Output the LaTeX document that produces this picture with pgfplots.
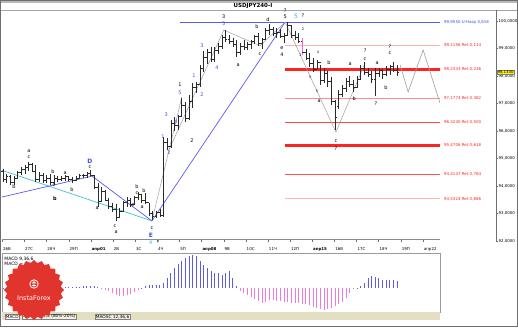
\documentclass[border=0pt]{standalone}
\usepackage{fontspec}
\setmainfont{DejaVu Sans}
\usepackage{pgfplots}
\pgfplotsset{compat=1.18}
\usepackage{pgfplotstable}

\definecolor{barc}{HTML}{2A2A2A}
\definecolor{fibred}{HTML}{FF2424}
\definecolor{fibpink}{HTML}{FF8C8C}
\definecolor{fiblight}{HTML}{FFB4B4}
\definecolor{wblue}{HTML}{3C50E6}
\definecolor{wcyan}{HTML}{2FB0E0}
\definecolor{tline}{HTML}{5A5AF0}
\definecolor{cline}{HTML}{40C0D8}
\definecolor{macdpos}{HTML}{5C5CE8}
\definecolor{macdneg}{HTML}{F07ADC}
\definecolor{logored}{HTML}{E0342C}
\definecolor{tabbg}{HTML}{E2DFC3}
\definecolor{frame}{HTML}{6E6E6E}
\definecolor{wave}{HTML}{A0A0A0}
\definecolor{pinkbar}{HTML}{FF66CC}

\pgfplotstableread{
i o h l c m
0 94.55 94.62 94.15 94.25 0.4
1 94.25 94.45 94.10 94.35 0.4
2 94.35 94.40 94.05 94.15 0.4
3 94.15 94.35 94.05 94.30 0.4
4 94.30 94.55 94.25 94.50 0.4
5 94.50 94.70 94.40 94.60 0.4
6 94.60 94.75 94.45 94.70 0.4
7 94.70 94.88 94.55 94.80 0.4
8 94.80 94.85 94.50 94.55 0.4
9 94.55 94.76 94.15 94.25 0.4
10 94.25 94.50 94.15 94.40 0.4
11 94.40 94.48 94.12 94.20 0.4
12 94.20 94.40 94.10 94.30 0.4
13 94.30 94.45 94.05 94.15 0.4
14 94.15 94.40 94.02 94.30 0.4
15 94.30 94.38 94.15 94.25 0.4
16 94.25 94.35 94.18 94.30 0.4
17 94.30 94.40 94.20 94.35 1.0
18 94.35 94.38 94.20 94.25 1.0
19 94.25 94.33 94.12 94.20 1.2
20 94.20 94.35 94.18 94.30 1.5
21 94.30 94.42 94.25 94.38 1.5
22 94.38 94.45 94.28 94.40 1.8
23 94.40 94.50 94.30 94.45 2.0
24 94.45 94.58 94.35 94.40 2.2
25 94.40 94.40 93.90 93.95 2.0
26 93.95 94.10 93.25 93.45 1.0
27 93.45 93.95 93.45 93.80 -0.5
28 93.80 93.85 93.45 93.50 -2
29 93.50 93.55 93.15 93.25 -3
30 93.25 93.40 93.05 93.15 -5
31 93.15 93.35 92.72 92.85 -7
32 92.85 93.20 92.85 93.10 -8
33 93.10 93.45 93.05 93.40 -8
34 93.40 93.60 93.25 93.50 -7
35 93.50 93.55 93.25 93.35 -6
36 93.35 93.65 93.30 93.60 -4
37 93.60 93.78 93.50 93.70 -1.5
38 93.70 93.72 93.40 93.50 0.5
39 93.50 93.75 93.35 93.40 2
40 93.40 93.40 92.90 93.00 3
41 93.00 93.10 92.76 92.90 3
42 92.90 93.10 92.85 93.05 3.5
43 93.05 93.15 92.88 92.95 3
44 92.95 95.78 92.88 95.60 5
45 95.60 95.75 95.30 95.45 10
46 95.45 96.40 95.40 96.30 15
47 96.30 96.50 96.00 96.20 20
48 96.20 96.60 96.05 96.55 24
49 96.55 97.20 96.50 96.95 27
50 96.95 97.05 96.33 96.45 30
51 96.45 97.30 96.40 97.10 32
52 97.10 97.75 96.85 97.60 33
53 97.60 97.80 97.40 97.70 32
54 97.70 98.40 97.60 98.30 27
55 98.30 98.90 98.15 98.70 23
56 98.70 99.00 98.45 98.85 20
57 98.85 99.05 98.50 98.60 17
58 98.60 99.05 98.50 98.95 15
59 98.95 99.20 98.80 99.10 15
60 99.10 99.50 99.00 99.40 13
61 99.40 99.67 99.25 99.35 15
62 99.35 99.50 99.15 99.25 17
63 99.25 99.40 99.05 99.15 10
64 99.15 99.30 98.70 98.85 2
65 98.85 99.20 98.75 99.10 -3
66 99.10 99.30 98.95 99.05 -5
67 99.05 99.25 98.95 99.15 -7
68 99.15 99.30 99.00 99.25 -9
69 99.25 99.50 99.15 99.45 -11
70 99.45 99.56 99.10 99.20 -13
71 99.20 99.40 99.00 99.35 -15
72 99.35 99.75 99.30 99.65 -14
73 99.65 99.90 99.50 99.70 -12
74 99.70 99.80 99.45 99.55 -12
75 99.55 99.75 99.40 99.60 -13
76 99.60 99.70 99.38 99.45 -13
77 99.45 99.55 99.20 99.50 -14
78 99.50 99.96 99.50 99.85 -14
79 99.85 99.85 99.40 99.50 -15
80 99.50 99.65 99.30 99.40 -15
81 99.40 99.55 99.20 99.25 -15
82 99.25 99.38 98.76 98.85 -16
83 98.85 99.00 98.58 98.65 -16
84 98.65 98.84 98.33 98.45 -17
85 98.45 98.65 98.15 98.25 -19
86 98.25 98.58 98.25 98.50 -20
87 98.50 98.40 97.67 97.85 -21
88 97.85 98.30 97.75 98.10 -22
89 98.10 98.20 97.60 97.80 -21
90 97.80 97.96 96.95 97.10 -20
91 97.10 97.13 96.04 96.50 -18
92 96.90 97.50 96.80 97.35 -16
93 97.35 97.67 97.24 97.55 -14
94 97.55 97.93 97.42 97.80 -10
95 97.80 98.00 97.60 97.70 -5
96 97.70 97.85 97.42 97.60 -1
97 97.60 98.00 97.55 97.90 0.5
98 97.90 98.40 97.85 98.30 2
99 98.30 98.50 98.04 98.15 5
100 98.15 98.30 97.95 98.05 10
101 98.05 98.20 97.75 97.90 12
102 97.90 98.30 97.27 98.10 11
103 98.10 98.30 97.96 98.20 10
104 98.20 98.25 97.90 98.05 8
105 98.05 98.35 98.00 98.25 8
106 98.25 98.40 98.04 98.35 8
107 98.35 98.50 98.15 98.20 8
108 98.20 98.40 98.00 98.13 7
}\ohlc

\tikzset{
 wl/.style={font=\fontsize{5}{5}\selectfont, inner sep=0pt, text=black},
 wn/.style={wl, text=wblue},
 wc/.style={wl, text=wcyan},
 fl/.style={font=\fontsize{4}{4}\selectfont, inner sep=0pt, anchor=west, text=fibred},
}

\begin{document}
\begin{tikzpicture}[x=1bp,y=1bp]
\useasboundingbox (0,0) rectangle (518,327);
\fill[white] (0,0) rectangle (518,327);
\fill[gray!55] (0,324) rectangle (518,327);
\draw[gray!70, line width=1.2] (0,316.5) -- (518,316.5);
\node[font=\fontsize{5.5}{6}\selectfont\bfseries] at (253,321) {USDJPY240-I};
\coordinate (mainSW) at (2bp,86bp);
\coordinate (dateSW) at (2bp,88bp);
\coordinate (macdSW) at (2bp,15bp);

% ---------------- main price panel
\begin{axis}[at={(mainSW)}, anchor=south west, scale only axis,
  width=494bp, height=231bp,
  xmin=-0.274, xmax=135.07, ymin=92, ymax=100.4,
  axis x line=none, axis y line*=right,
  axis line style={frame,-},
  ytick={92,93,94,95,96,97,98,99,100},
  yticklabels={{92,0000},{93,0000},{94,0000},{95,0000},{96,0000},{97,0000},{98,0000},{99,0000},{100,0000}},
  tick style={frame}, major tick length=2bp, tick align=outside,
  yticklabel style={font=\fontsize{3.9}{4.5}\selectfont, inner sep=0.5bp},
  clip=false]

% Fibonacci levels
\addplot[fiblight, line width=0.8bp] coordinates {(77.3,99.1156) (119.7,99.1156)};
\addplot[fibred, line width=2.6bp] coordinates {(77.3,98.2333) (119.7,98.2333)};
\addplot[fibpink, line width=0.9bp] coordinates {(77.3,97.1774) (119.7,97.1774)};
\addplot[fibred!85, line width=0.8bp] coordinates {(77.3,96.3240) (119.7,96.3240)};
\addplot[fibred, line width=2.6bp] coordinates {(77.3,95.4706) (119.7,95.4706)};
\addplot[fibred!80, line width=0.8bp] coordinates {(77.3,94.4147) (119.7,94.4147)};
\addplot[fiblight, line width=0.8bp] coordinates {(77.3,93.5324) (119.7,93.5324)};
\addplot[tline, line width=0.8bp] coordinates {(48.5,99.955) (119.7,99.955)};

% trend lines
\addplot[cline, line width=0.7bp] coordinates {(-0.27,94.57) (40.8,92.73)};
\addplot[tline, line width=0.7bp] coordinates {(-0.27,93.6) (24.4,94.36) (40.8,92.73) (77.3,99.96)};

% wave lines
\addplot[wave, line width=0.5bp] coordinates {(40.8,92.73) (49.0,97.24)};
\addplot[wave, line width=0.5bp] coordinates {(45.2,95.24) (60.5,99.67) (70.4,99.1) (77.3,99.96)};
\addplot[wave, line width=0.5bp] coordinates {(77.3,99.96) (91.2,95.96) (99.2,98.47)};
\addplot[wave, line width=0.6bp] coordinates {(108.8,98.4) (111,97.42) (115.1,98.95) (119.7,97.02)};

% OHLC bars
\addplot[draw=none, mark=none, error bars/.cd, y dir=minus, y explicit, error mark=none,
  error bar style={draw=barc, solid, line width=0.75bp}]
  table[x=i, y=h, y error minus expr=\thisrow{h}-\thisrow{l}] {\ohlc};
\addplot[only marks, mark=-, mark size=0.9bp, mark options={xshift=-0.9bp, draw=barc, line width=0.5bp}]
  table[x=i, y=o] {\ohlc};
\addplot[only marks, mark=-, mark size=0.9bp, mark options={xshift=0.9bp, draw=barc, line width=0.5bp}]
  table[x=i, y=c] {\ohlc};
\addplot[pinkbar, line width=0.9bp] coordinates {(82,99.38) (82,98.76)};

% fib labels
\node[fl, text=wblue] at (axis cs:120.8,99.955) {99,9550 U-Hasp 0,618};
\node[fl] at (axis cs:120.8,99.1156) {99,1156 Ret 0,114};
\node[fl] at (axis cs:120.8,98.2333) {98,2333 Ret 0,236};
\node[fl] at (axis cs:120.8,97.1774) {97,1774 Ret 0,382};
\node[fl] at (axis cs:120.8,96.3240) {96,3240 Ret 0,500};
\node[fl] at (axis cs:120.8,95.4706) {95,4706 Ret 0,618};
\node[fl] at (axis cs:120.8,94.4147) {94,4147 Ret 0,764};
\node[fl] at (axis cs:120.8,93.5324) {93,5324 Ret 0,886};

% current price box
\node[fill=yellow, draw=black!50, inner sep=0.5bp, anchor=west, font=\fontsize{3.9}{4.5}\selectfont] at (axis cs:135.3,98.133) {98,1330};

% wave labels (black)
\node[wl] at (axis cs:3.0,93.96) {b};
\node[wl] at (axis cs:7.1,95.27) {a};
\node[wl] at (axis cs:7.1,95.05) {c};
\node[wl] at (axis cs:13.7,94.51) {b};
\node[wl] at (axis cs:14.0,94.04) {c};
\node[wl, font=\fontsize{5}{5}\selectfont\bfseries] at (axis cs:14.2,93.53) {b};
\node[wl] at (axis cs:17.0,94.47) {a};
\node[wl] at (axis cs:18.9,93.85) {b};
\node[wl] at (axis cs:23.8,94.69) {c};
\node[wl] at (axis cs:25.8,93.2) {a};
\node[wl] at (axis cs:30.7,92.55) {c};
\node[wl] at (axis cs:31.0,92.33) {a};
\node[wl] at (axis cs:35.6,93.31) {e};
\node[wl] at (axis cs:36.7,93.96) {b};
\node[wl] at (axis cs:36.7,93.75) {c};
\node[wl] at (axis cs:38.6,93.82) {b};
\node[wl] at (axis cs:38.1,93.24) {a};
\node[wl] at (axis cs:40.8,92.47) {c};
\node[wl] at (axis cs:51.8,95.64) {2};
\node[wl] at (axis cs:48.5,97.67) {1};
\node[wl] at (axis cs:60.5,100.15) {3};
\node[wl] at (axis cs:64.4,98.4) {a};
\node[wl] at (axis cs:69.6,99.78) {b};
\node[wl] at (axis cs:70.4,98.8) {c};
\node[wl] at (axis cs:72.6,100.04) {d};
\node[wl] at (axis cs:77.3,100.36) {?};
\node[wl] at (axis cs:77.3,100.15) {5};
\node[wl] at (axis cs:76.4,99.02) {e};
\node[wl] at (axis cs:76.4,98.76) {4};
\node[wl] at (axis cs:82.2,100.18) {?};
\node[wl, font=\fontsize{3.5}{4}\selectfont] at (axis cs:82.2,99.71) {2};
\node[wl, font=\fontsize{3.5}{4}\selectfont] at (axis cs:81.4,98.76) {1};
\node[wl, font=\fontsize{3.5}{4}\selectfont] at (axis cs:86.3,98.87) {4};
\node[wl, font=\fontsize{3.5}{4}\selectfont] at (axis cs:84.1,97.96) {3};
\node[wl] at (axis cs:89.3,98.47) {b};
\node[wl, font=\fontsize{3.5}{4}\selectfont] at (axis cs:86.0,97.45) {5};
\node[wl] at (axis cs:86.6,97.09) {a};
\node[wl] at (axis cs:91.2,95.64) {c};
\node[wl] at (axis cs:91.2,95.35) {?};
\node[wl] at (axis cs:95.1,98.44) {a};
\node[wl] at (axis cs:96.2,97.16) {b};
\node[wl] at (axis cs:99.2,98.91) {?};
\node[wl] at (axis cs:99.2,98.62) {c};
\node[wl] at (axis cs:102.5,98.47) {a};
\node[wl] at (axis cs:102.2,96.98) {?};
\node[wl] at (axis cs:104.9,97.56) {b};
\node[wl] at (axis cs:106.0,99.05) {?};
\node[wl] at (axis cs:106.0,98.84) {c};
\node[wl] at (axis cs:42.5,91.96) {?};
% wave labels (blue / cyan)
\node[wn, font=\fontsize{6}{6}\selectfont\bfseries] at (axis cs:23.8,94.91) {D};
\node[wn, font=\fontsize{6}{6}\selectfont\bfseries] at (axis cs:40.5,92.22) {E};
\node[wn] at (axis cs:43.8,95.78) {1};
\node[wn] at (axis cs:45.5,95.2) {2};
\node[wn] at (axis cs:44.7,96.58) {3};
\node[wn] at (axis cs:47.4,96.33) {4};
\node[wn] at (axis cs:48.5,97.38) {5};
\node[wn] at (axis cs:52.3,98.0) {1};
\node[wn] at (axis cs:54.5,97.31) {2};
\node[wn] at (axis cs:54.5,99.09) {3};
\node[wn] at (axis cs:58.6,98.29) {4};
\node[wn] at (axis cs:60.5,99.89) {5};
\node[wc, font=\fontsize{6}{6}\selectfont] at (axis cs:80.3,100.18) {5};
\node[wc] at (axis cs:40.5,91.93) {4};
\end{axis}

% ---------------- date axis
\begin{axis}[at={(dateSW)}, anchor=south west, scale only axis,
  width=438bp, height=1bp,
  xmin=-0.274, xmax=119.73, ymin=0, ymax=1,
  axis x line*=bottom, axis y line=none,
  axis line style={frame!80,-},
  xtick={-0.25,5.8,11.9,18.0,24.05,30.1,36.2,42.25,48.3,54.4,60.45,66.5,72.6,78.65,84.7,90.8,96.85,102.9,109.0,115.05},
  xticklabels={26В,27С,28Ч,29П,{\bfseries апр01},2В,3С,4Ч,5П,{\bfseries апр08},9В,10С,11Ч,12П,{\bfseries апр15},16В,17С,18Ч,19П,апр22},
  tick style={frame}, major tick length=2.5bp, tick align=outside,
  xticklabel style={anchor=north west, font=\fontsize{4}{4.5}\selectfont, inner sep=0pt, xshift=0.8bp, yshift=-5.5bp}]
\end{axis}

% ---------------- MACD panel
\begin{axis}[at={(macdSW)}, anchor=south west, scale only axis,
  width=438bp, height=59bp,
  xmin=-0.274, xmax=119.73, ymin=-24, ymax=35,
  axis line style={frame!70},
  xtick=\empty, ytick=\empty]
\addplot[ycomb, macdpos, line width=0.9bp, restrict y to domain=0:60] table[x=i, y=m] {\ohlc};
\addplot[ycomb, macdneg, line width=0.9bp, restrict y to domain=-60:0] table[x=i, y=m] {\ohlc};
\node[anchor=north west, align=left, inner sep=0pt, font=\fontsize{4.5}{5.5}\selectfont] at (rel axis cs:0.005,0.94) {MACD 9,36,6\\MACD = \textcolor{macdpos}{0,46}};
\end{axis}

% tab bar
\fill[tabbg] (2,7) rectangle (440,15);
\node[draw=gray, fill=white, inner sep=0.7bp, anchor=south west, font=\fontsize{4.3}{4.5}\selectfont] at (5,7.6) {MACD};
\node[draw=gray, fill=tabbg!50, inner sep=0.7bp, anchor=south west, font=\fontsize{4.3}{4.5}\selectfont] at (22,7.6) {Stoch 13,3,3 (80\%-20\%)};
\node[draw=gray, fill=tabbg!50, inner sep=0.7bp, anchor=south west, font=\fontsize{4.3}{4.5}\selectfont] at (95,7.6) {MAOSC 12,36,6};

% outer frame
\draw[frame, line width=1] (0.5,0.5) rectangle (517.5,326.5);

% logo
\begin{scope}[shift={(34,37)}]
\fill[logored] (0:30) \foreach \k in {1,...,47} { -- ({\k*7.5}:{30-3*mod(\k,2)}) } -- cycle;
\draw[white, line width=0.8] (0,6) circle (4.2);
\draw[white, line width=0.7] (0,3) -- (0,8.5) (-2,6.5) -- (0,8.5) -- (2,6.5) (-1.8,4.5) -- (1.8,4.5);
\node[text=white, font=\fontsize{6.5}{7}\selectfont] at (0,-8) {InstaForex};
\end{scope}
\end{tikzpicture}
\end{document}
